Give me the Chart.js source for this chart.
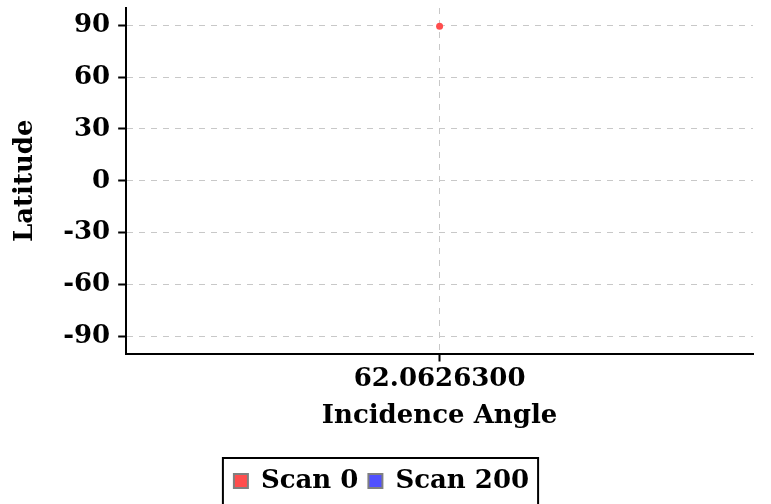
<!DOCTYPE html>
<html>
<head>
<meta charset="utf-8">
<script src="https://cdn.jsdelivr.net/npm/chart.js@4/dist/chart.umd.min.js"></script>
<style>
  html, body { margin: 0; padding: 0; background: #fff; }
  #wrap { width: 771px; height: 504px; }
</style>
</head>
<body>
<div id="wrap"><canvas id="chart"></canvas></div>
<script>
"use strict";

var scan_names = ["Scan 0", "Scan 200"];
var scan0_angle = [62.06263];
var scan0_lat = [89.4];
var scan200_angle = [];
var scan200_lat = [];
var lat_ticks = [-90, -60, -30, 0, 30, 60, 90];
var angle_ticks = [62.06263];

var colors = {
  red: "rgb(255, 77, 77)",
  blue: "rgb(80, 80, 255)",
  grey: "rgb(128, 128, 128)",
  grid: "rgb(200, 200, 200)"
};

var font = { family: "'DejaVu Serif', serif", weight: "bold", size: 26 };

function to_points(xs, ys) {
  var pts = [];
  for (var i = 0; i < xs.length; i++) {
    pts.push({ x: xs[i], y: ys[i] });
  }
  return pts;
}

// box drawn tight round the legend items
var legend_frame = {
  id: "legend_frame",
  afterDraw: function(chart) {
    var boxes = chart.legend.legendHitBoxes;
    if (!boxes || !boxes.length) return;
    var left = boxes[0].left;
    var right = boxes[boxes.length - 1].left + boxes[boxes.length - 1].width;
    var top = boxes[0].top;
    var ctx = chart.ctx;
    ctx.save();
    ctx.strokeStyle = "#000";
    ctx.lineWidth = 2;
    ctx.strokeRect(left - 11, top - 10, right - left + 20, 60);
    ctx.restore();
  }
};

var grid_opts = {
  color: colors.grid,
  tickColor: "#000",
  tickLength: 8,
  tickWidth: 2,
  tickBorderDash: [1, 0]
};

new Chart(document.getElementById("chart"), {
  type: "scatter",
  data: {
    datasets: [
      {
        label: scan_names[0],
        data: to_points(scan0_angle, scan0_lat),
        backgroundColor: colors.red,
        borderColor: colors.red,
        pointRadius: 3.5,
        borderWidth: 0
      },
      {
        label: scan_names[1],
        data: to_points(scan200_angle, scan200_lat),
        backgroundColor: colors.blue,
        borderColor: colors.blue,
        pointRadius: 3.5,
        borderWidth: 0
      }
    ]
  },
  options: {
    responsive: true,
    maintainAspectRatio: false,
    animation: false,
    layout: { padding: { top: 8, right: 18, left: 10, bottom: 0 } },
    plugins: {
      tooltip: { enabled: false },
      legend: {
        position: "bottom",
        labels: {
          color: "#000",
          font: font,
          boxWidth: 14,
          boxHeight: 14,
          padding: 10,
          generateLabels: function(chart) {
            return chart.data.datasets.map(function(ds, i) {
              return {
                text: ds.label,
                fillStyle: ds.backgroundColor,
                strokeStyle: colors.grey,
                lineWidth: 2,
                fontColor: "#000",
                datasetIndex: i
              };
            });
          }
        }
      }
    },
    scales: {
      x: {
        type: "linear",
        min: angle_ticks[0] - 1,
        max: angle_ticks[0] + 1,
        afterBuildTicks: function(axis) {
          axis.ticks = angle_ticks.map(function(v) { return { value: v }; });
        },
        ticks: {
          color: "#000",
          font: font,
          padding: 2,
          maxRotation: 0,
          callback: function(v) { return Number(v).toFixed(7); }
        },
        grid: grid_opts,
        border: { color: "#000", width: 2, dash: [6, 6] },
        title: {
          display: true, text: "Incidence Angle", color: "#000", font: font,
          padding: { top: 4, bottom: 26 }
        }
      },
      y: {
        type: "linear",
        min: -100,
        max: 100,
        afterBuildTicks: function(axis) {
          axis.ticks = lat_ticks.map(function(v) { return { value: v }; });
        },
        afterFit: function(axis) {
          // end labels sit inside the range, no room needed above/below
          axis.paddingTop = 0;
          axis.paddingBottom = 0;
        },
        ticks: {
          color: "#000",
          font: font,
          padding: 8
        },
        grid: grid_opts,
        border: { color: "#000", width: 2, dash: [6, 6] },
        title: { display: true, text: "Latitude", color: "#000", font: font, padding: { top: 0, bottom: 14 } }
      }
    }
  },
  plugins: [legend_frame]
});
</script>
</body>
</html>
